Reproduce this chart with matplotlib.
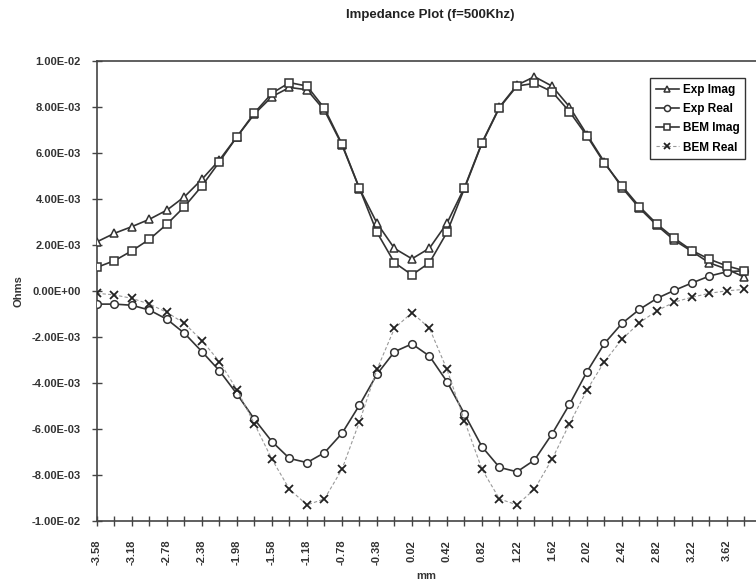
import numpy as np
import matplotlib
matplotlib.use('Agg')
import matplotlib.pyplot as plt

# positions along the scan (mm), one every 0.2 mm
mm = [-3.58, -3.38, -3.18, -2.98, -2.78, -2.58, -2.38, -2.18, -1.98, -1.78,
      -1.58, -1.38, -1.18, -0.98, -0.78, -0.58, -0.38, -0.18, 0.02, 0.22,
      0.42, 0.62, 0.82, 1.02, 1.22, 1.42, 1.62, 1.82, 2.02, 2.22,
      2.42, 2.62, 2.82, 3.02, 3.22, 3.42, 3.62, 3.82]

# values in units of 1e-3 Ohms
exp_imag = [2.14, 2.51, 2.80, 3.12, 3.52, 4.10, 4.86, 5.70, 6.71, 7.70,
            8.45, 8.85, 8.75, 7.85, 6.35, 4.45, 2.95, 1.85, 1.40, 1.86,
            2.95, 4.50, 6.45, 8.00, 8.95, 9.32, 8.91, 8.01, 6.80, 5.60,
            4.50, 3.60, 2.85, 2.20, 1.72, 1.22, 0.95, 0.60]
exp_real = [-0.57, -0.57, -0.62, -0.83, -1.23, -1.84, -2.64, -3.47, -4.48, -5.58,
            -6.55, -7.28, -7.46, -7.03, -6.19, -4.96, -3.62, -2.64, -2.30, -2.83,
            -3.94, -5.35, -6.77, -7.67, -7.86, -7.35, -6.22, -4.93, -3.51, -2.28,
            -1.41, -0.80, -0.32, 0.03, 0.35, 0.65, 0.84, 0.88]
bem_imag = [1.03, 1.32, 1.75, 2.25, 2.91, 3.67, 4.57, 5.62, 6.71, 7.75,
            8.60, 9.06, 8.91, 7.94, 6.39, 4.46, 2.55, 1.23, 0.70, 1.23,
            2.55, 4.46, 6.42, 7.97, 8.91, 9.03, 8.67, 7.80, 6.74, 5.55,
            4.57, 3.67, 2.91, 2.29, 1.76, 1.38, 1.09, 0.88]
bem_real = [-0.10, -0.17, -0.32, -0.57, -0.93, -1.41, -2.16, -3.07, -4.30, -5.78,
            -7.32, -8.62, -9.30, -9.04, -7.75, -5.68, -3.41, -1.62, -0.94, -1.62,
            -3.41, -5.64, -7.75, -9.04, -9.30, -8.62, -7.32, -5.78, -4.30, -3.07,
            -2.10, -1.38, -0.86, -0.48, -0.27, -0.10, 0.01, 0.07]

y_ticks = [-0.01, -0.008, -0.006, -0.004, -0.002, 0.0, 0.002, 0.004, 0.006, 0.008, 0.01]
y_labels = ['-1.00E-02', '-8.00E-03', '-6.00E-03', '-4.00E-03', '-2.00E-03',
            '0.00E+00', '2.00E-03', '4.00E-03', '6.00E-03', '8.00E-03', '1.00E-02']

plt.rcParams['font.family'] = ['Liberation Sans', 'DejaVu Sans']
plt.rcParams['font.weight'] = 'bold'

fig = plt.figure(figsize=(7.56, 5.86), dpi=100)
ax = fig.add_axes([97 / 756, 65 / 586, 1 - 97 / 756, 460 / 586])

idx = np.arange(len(mm))
scale = 1e-3
dark = '#333333'

ax.plot(idx, np.array(exp_imag) * scale, color=dark, lw=1.2, marker='^',
        ms=5.5, mfc='white', mec=dark, mew=1.1, label='Exp Imag', zorder=3)
ax.plot(idx, np.array(exp_real) * scale, color=dark, lw=1.2, marker='o',
        ms=5.5, mfc='white', mec=dark, mew=1.1, label='Exp Real', zorder=3)
ax.plot(idx, np.array(bem_imag) * scale, color=dark, lw=1.2, marker='s',
        ms=6, mfc='white', mec=dark, mew=1.1, label='BEM Imag', zorder=3)
ax.plot(idx, np.array(bem_real) * scale, color='#999999', lw=0.8, ls=(0, (3, 2)),
        marker='x', ms=6, mec='#222222', mew=1.3, label='BEM Real', zorder=3)

ax.set_xlim(0, 37.66)
ax.set_ylim(-0.01, 0.01)

ax.set_xticks(idx)
ax.set_xticklabels(['%.2f' % v if i % 2 == 0 else '' for i, v in enumerate(mm)],
                   rotation=90, fontsize=8, fontweight='bold', color='#333333')
ax.set_yticks(y_ticks)
ax.set_yticklabels(y_labels, fontsize=8, fontweight='bold', color='#333333')
ax.tick_params(axis='both', direction='inout', length=7, width=1, color='#444444')
ax.tick_params(axis='x', pad=10)
ax.tick_params(axis='y', pad=8)

for side in ['left', 'bottom', 'top']:
    ax.spines[side].set_color('#444444')
    ax.spines[side].set_linewidth(1.2)
ax.spines['right'].set_visible(False)

ax.set_xlabel('mm', fontsize=8, fontweight='bold', color='#333333', labelpad=4)
ax.set_ylabel('Ohms', fontsize=8, fontweight='bold', color='#333333', labelpad=6)
fig.text(430 / 756, 1 - 15 / 586, 'Impedance Plot (f=500Khz)', ha='center', va='center',
         fontsize=9.5, fontweight='bold', color='#222222')

leg = ax.legend(loc='upper right', bbox_to_anchor=(0.993, 0.975), fontsize=8.5,
                numpoints=1, fancybox=False, framealpha=1, edgecolor='#333333',
                handlelength=2.0, borderpad=0.5, labelspacing=0.6, handletextpad=0.3,
                markerscale=0.8)
leg.get_frame().set_linewidth(1.0)

fig.savefig('out.png', dpi=100)
